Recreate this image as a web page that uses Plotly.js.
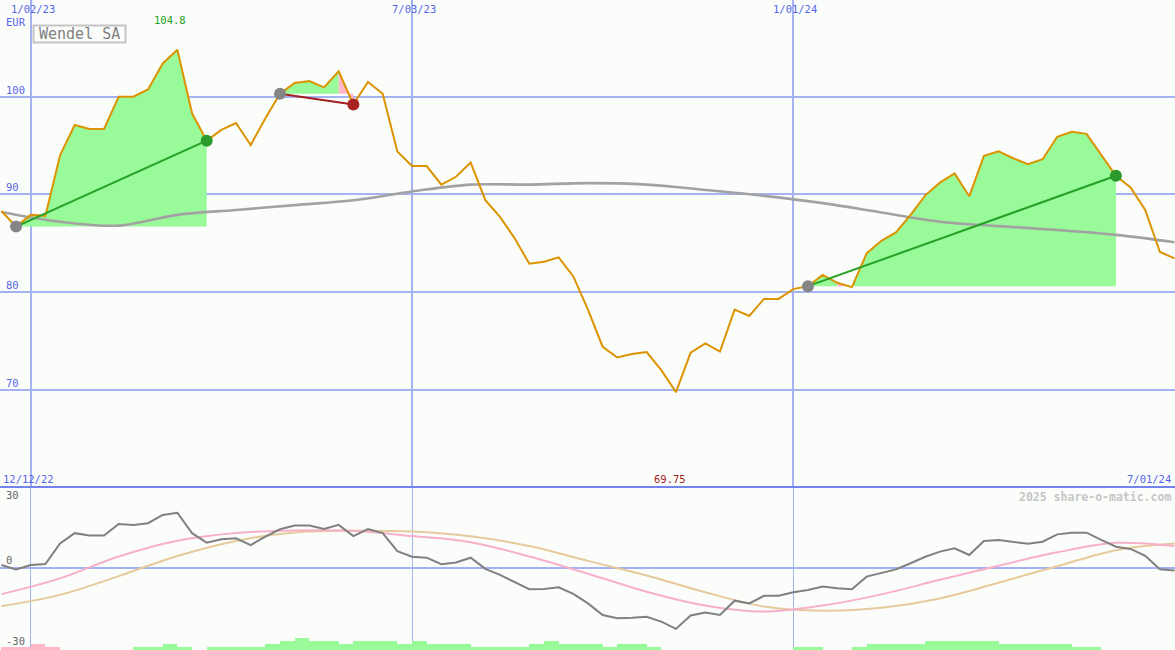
<!DOCTYPE html>
<html><head><meta charset="utf-8">
<script src="https://cdn.plot.ly/plotly-3.0.1.min.js"></script>
<style>html,body{margin:0;padding:0;background:#fbfdfb;}#chart{width:1175px;height:650px;}</style>
</head><body><div id="chart"></div>
<script>
// ---------- data (weekly, Mondays, starting 2022-12-19) ----------
const firstWeek = '2022-12-19';
const price = [88.3, 86.7, 87.9, 87.8, 94.0, 97.1, 96.7, 96.7, 100.0, 100.0,
  100.75, 103.4, 104.8, 98.3, 95.5, 96.6, 97.3, 95.05, 97.8, 100.3,
  101.4, 101.6, 100.95, 102.6, 99.2, 101.5, 100.3, 94.4, 92.9, 92.9,
  91.0, 91.8, 93.25, 89.4, 87.7, 85.5, 82.9, 83.1, 83.55, 81.6,
  78.2, 74.4, 73.3, 73.65, 73.85, 72.0, 69.75, 73.8, 74.75, 73.9,
  78.2, 77.55, 79.3, 79.3, 80.3, 80.6, 81.75, 80.95, 80.5, 83.95,
  85.25, 86.1, 87.9, 89.9, 91.2, 92.15, 89.8, 93.95, 94.4, 93.7,
  93.1, 93.6, 95.9, 96.4, 96.2, 94.0, 91.9, 90.7, 88.4, 84.1, 83.45];
const momentum = [1.1, -0.7, 1.1, 1.5, 10.0, 14.2, 13.2, 13.2, 18.0, 17.6,
  18.3, 21.7, 22.6, 14.2, 10.3, 11.7, 12.1, 9.3, 12.8, 15.8,
  17.3, 17.3, 15.9, 17.6, 13.0, 15.9, 14.2, 6.8, 4.5, 4.1,
  1.4, 2.1, 4.1, -0.5, -3.0, -5.8, -8.9, -8.8, -8.1, -10.8,
  -14.7, -19.5, -20.8, -20.6, -20.2, -22.2, -25.2, -19.7, -18.5, -19.5,
  -13.6, -14.7, -11.6, -11.6, -10.1, -9.2, -7.8, -8.5, -8.9, -3.7,
  -2.3, -0.7, 1.8, 4.5, 6.6, 8.0, 5.2, 11.0, 11.4, 10.5,
  9.8, 10.7, 13.7, 14.4, 14.4, 11.4, 8.6, 7.7, 4.9, -0.7, -1.2];
// sampled every 4 weeks
const longAverage = [88.2, 87.2, 86.8, 87.9, 88.4, 88.9, 89.4, 90.3, 91.0, 91.0,
  91.15, 91.0, 90.45, 89.85, 89.1, 88.15, 87.2, 86.75, 86.35, 85.85, 85.1];
const oscFast = [-10.9, -4.4, 4.6, 11.1, 14.3, 15.3, 15.2, 13.0, 10.5, 4.6,
  -2.5, -9.9, -15.6, -18.1, -15.6, -11.0, -5.0, 0.8, 6.3, 10.2, 8.9];
const oscSlow = [-15.9, -11.2, -3.5, 4.8, 11.0, 14.5, 15.2, 14.9, 12.9, 8.9,
  2.8, -3.2, -10.1, -16.0, -17.7, -16.5, -12.7, -6.2, 0.6, 7.2, 9.9];
// weekly bar levels (80 weeks)
const barsUp = [0,0,0,0,0,0,0,0,0,1, 1,2,1,0,1,1,1,1,2,3, 4,3,3,2,3,3,3,2,3,2,
  2,2,1,1,1,1,2,3,2,2, 2,1,2,2,1,0,0,0,0,0, 0,0,0,0,1,1,0,0,1,2,
  2,2,2,3,3,3,3,3,2,2, 2,2,2,1,1,0,0,0,0,0];
const barsDown = [1,1,2,1,0,0,0,0,0,0, 0,0,0,0,0,0,0,0,0,0, 0,0,0,0,0,0,0,0,0,0,
  0,0,0,0,0,0,0,0,0,0, 0,0,0,0,0,0,0,0,0,0, 0,0,0,0,0,0,0,0,0,0,
  0,0,0,0,0,0,0,0,0,0, 0,0,0,0,0,0,0,0,0,0];
const tradeBuy = [1, 19, 55];
const tradeSell = [14, 24, 76];
const gridDates = ['2023-01-02', '2023-07-03', '2024-01-01'];
const gridDateLabels = ['1/02/23', '7/03/23', '1/01/24'];
const priceTicks = [70, 80, 90, 100];
const oscTicks = [30, 0, -30];
const rangeLabels = ['12/12/22', '7/01/24'];
const chartTitle = 'Wendel SA';
const currency = 'EUR';
const credit = '2025 share-o-matic.com';

// ---------- helpers ----------
function addDays(iso, n) { const d = new Date(iso + 'T00:00:00Z'); d.setUTCDate(d.getUTCDate() + n); return d.toISOString().slice(0, 10); }
const weeks = price.map((_, i) => addDays(firstWeek, 7 * i));
const weeks4 = longAverage.map((_, i) => weeks[4 * i]);

const W = 1175, H = 650, SPLIT = 487;
const dSplit = (H - SPLIT) / H;
const py = p => 1 - p / H;            // pixel row -> paper y
const px = p => p / W;                // pixel col -> paper x
const bg = '#fbfdfb';
const gridC = '#a4b2f2';
const blue = '#5565e8';
const mono = 'DejaVu Sans Mono';
const GREEN_FILL = '#98fa98', PINK_FILL = '#ffb8c8';

const traces = [];
// trade fills
tradeBuy.forEach((b, t) => {
  const s = tradeSell[t], base = price[b];
  const seg = [];
  for (let i = b; i < s; i++) {
    const st = price[i], en = price[i + 1];
    seg.push(en >= base ? 'g' : (st >= base ? 'p' : null));
  }
  let i = 0;
  while (i < seg.length) {
    const c = seg[i]; let j = i;
    while (j < seg.length && seg[j] === c) j++;
    if (c) {
      const a = b + i, e = b + j;
      const xs = weeks.slice(a, e + 1).concat([weeks[e], weeks[a]]);
      const ys = price.slice(a, e + 1).concat([base, base]);
      traces.push({x: xs, y: ys, type: 'scatter', mode: 'lines', fill: 'toself',
        fillcolor: c === 'g' ? GREEN_FILL : PINK_FILL, line: {width: 0}, hoverinfo: 'skip', xaxis: 'x', yaxis: 'y'});
    }
    i = j;
  }
});
// long moving average
traces.push({x: weeks4, y: longAverage, type: 'scatter', mode: 'lines', line: {color: '#a2a2a2', width: 2.6, shape: 'spline'}, xaxis: 'x', yaxis: 'y'});
// price
traces.push({x: weeks, y: price, type: 'scatter', mode: 'lines', line: {color: '#dc9300', width: 2}, xaxis: 'x', yaxis: 'y'});
// trade lines and markers
tradeBuy.forEach((b, t) => {
  const s = tradeSell[t];
  const win = price[s] >= price[b];
  const col = win ? '#24a024' : '#a41e1e';
  traces.push({x: [weeks[b], weeks[s]], y: [price[b], price[s]], type: 'scatter', mode: 'lines', line: {color: col, width: 2}, xaxis: 'x', yaxis: 'y'});
  traces.push({x: [weeks[b]], y: [price[b]], type: 'scatter', mode: 'markers', marker: {color: '#858585', size: 12}, xaxis: 'x', yaxis: 'y'});
  traces.push({x: [weeks[s]], y: [price[s]], type: 'scatter', mode: 'markers', marker: {color: win ? '#2a9a2a' : '#a82222', size: 12}, xaxis: 'x', yaxis: 'y'});
});
// lower panel
traces.push({x: weeks4, y: oscSlow, type: 'scatter', mode: 'lines', line: {color: '#e6ca9c', width: 2, shape: 'spline'}, xaxis: 'x2', yaxis: 'y2'});
traces.push({x: weeks4, y: oscFast, type: 'scatter', mode: 'lines', line: {color: '#f7b0c8', width: 2, shape: 'spline'}, xaxis: 'x2', yaxis: 'y2'});
traces.push({x: weeks, y: momentum, type: 'scatter', mode: 'lines', line: {color: '#808080', width: 2}, xaxis: 'x2', yaxis: 'y2'});
const barX = weeks.slice(0, barsUp.length);
traces.push({x: barX, y: barsUp, type: 'bar', width: 7 * 864e5, offset: 0, marker: {color: GREEN_FILL, line: {width: 0}}, xaxis: 'x2', yaxis: 'y3'});
traces.push({x: barX, y: barsDown, type: 'bar', width: 7 * 864e5, offset: 0, marker: {color: PINK_FILL, line: {width: 0}}, xaxis: 'x2', yaxis: 'y3'});

// ---------- annotations ----------
const ann = [];
const f = (size, color, extra) => Object.assign({family: mono, size: size, color: color}, extra || {});
priceTicks.forEach(v => ann.push({xref: 'paper', x: 0, xanchor: 'left', xshift: 4, yref: 'y', y: v, yanchor: 'bottom', yshift: -1, text: String(v), showarrow: false, font: f(10.5, blue)}));
ann.push({xref: 'paper', x: 0, xanchor: 'left', xshift: 4, yref: 'paper', y: py(21.5), yanchor: 'middle', text: currency, showarrow: false, font: f(10.5, blue)});
gridDates.forEach((d, i) => ann.push({xref: 'x', x: d, xanchor: 'center', xshift: 2, yref: 'paper', y: py(8.5), yanchor: 'middle', text: gridDateLabels[i], showarrow: false, font: f(10.5, blue)}));
ann.push({xref: 'paper', x: 0, xanchor: 'left', xshift: 1, yref: 'paper', y: py(478.5), yanchor: 'middle', text: rangeLabels[0], showarrow: false, font: f(10.5, blue)});
ann.push({xref: 'paper', x: 1, xanchor: 'right', xshift: -2, yref: 'paper', y: py(478.5), yanchor: 'middle', text: rangeLabels[1], showarrow: false, font: f(10.5, blue)});
oscTicks.forEach(v => ann.push({xref: 'paper', x: 0, xanchor: 'left', xshift: 4, yref: 'y2', y: v, yanchor: v === 0 ? 'bottom' : 'middle', text: String(v), showarrow: false, font: f(10.5, '#666666')}));
ann.push({xref: 'paper', x: 1, xanchor: 'right', xshift: -2, yref: 'paper', y: py(496.5), yanchor: 'middle', text: '<b>' + credit + '</b>', showarrow: false, font: f(11.5, '#c6c6c6')});
const iMax = price.indexOf(Math.max(...price));
const iMin = price.indexOf(Math.min(...price));
ann.push({xref: 'x', x: weeks[iMax], xanchor: 'center', xshift: -7, yref: 'paper', y: py(20), yanchor: 'middle', text: String(price[iMax]), showarrow: false, font: f(10.5, '#22a022')});
ann.push({xref: 'x', x: weeks[iMin], xanchor: 'center', xshift: -6, yref: 'paper', y: py(478.5), yanchor: 'middle', text: String(price[iMin]), showarrow: false, font: f(10.5, '#a01c1c')});
ann.push({xref: 'paper', x: px(79.5), xanchor: 'center', yref: 'paper', y: py(34), yanchor: 'middle', text: chartTitle, showarrow: false, font: f(15, '#808080')});

const shapes = [
  {type: 'line', xref: 'paper', yref: 'paper', x0: 0, x1: 1, y0: dSplit, y1: dSplit, line: {color: '#7484ee', width: 2}},
  {type: 'rect', xref: 'paper', yref: 'paper', x0: px(33.5), x1: px(125.5), y0: py(42.5), y1: py(25.5), line: {color: '#c4c4c4', width: 2}, fillcolor: 'rgba(0,0,0,0)'}
];

const xRange = ['2022-12-18 08:00', '2024-07-01 05:00'];
const layout = {
  width: W, height: H, margin: {l: 0, r: 0, t: 0, b: 0, pad: 0},
  paper_bgcolor: bg, plot_bgcolor: bg, showlegend: false,
  xaxis: {type: 'date', range: xRange, domain: [0, 1], anchor: 'y', tickvals: gridDates, showticklabels: false, ticks: '',
    showgrid: true, gridcolor: gridC, gridwidth: 2, zeroline: false, showline: false, fixedrange: true},
  xaxis2: {type: 'date', range: xRange, domain: [0, 1], anchor: 'y2', tickvals: gridDates, showticklabels: false, ticks: '',
    showgrid: true, gridcolor: gridC, gridwidth: 1, zeroline: false, showline: false, fixedrange: true},
  yaxis: {domain: [dSplit, 1], range: [60.04, 109.9], anchor: 'x', tickvals: priceTicks, showticklabels: false, ticks: '',
    showgrid: true, gridcolor: gridC, gridwidth: 2, zeroline: false, showline: false, fixedrange: true},
  yaxis2: {domain: [0, dSplit], range: [-33.9, 33.2], anchor: 'x2', tickvals: [0], showticklabels: false, ticks: '',
    showgrid: true, gridcolor: gridC, gridwidth: 2, zeroline: false, showline: false, fixedrange: true},
  yaxis3: {overlaying: 'y2', anchor: 'x2', range: [0, (H - SPLIT) / 3], visible: false, fixedrange: true},
  bargap: 0, barmode: 'overlay',
  annotations: ann, shapes: shapes
};
Plotly.newPlot('chart', traces, layout, {staticPlot: true, displayModeBar: false});
</script></body></html>
